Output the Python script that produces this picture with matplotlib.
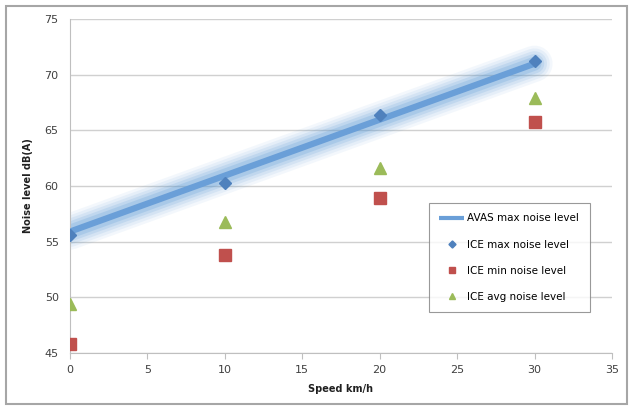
import numpy as np
import matplotlib.pyplot as plt
from matplotlib.patches import Rectangle

speed = [0, 10, 20, 30]
ice_max = [55.6, 60.3, 66.4, 71.2]
ice_min = [45.8, 53.8, 58.9, 65.8]
ice_avg = [49.4, 56.8, 61.6, 67.9]
avas_speed = [0, 30]
avas_max = [55.9, 71.0]

fig = plt.figure(figsize=(6.29, 4.08), dpi=100)
ax = fig.add_axes([0.111, 0.135, 0.862, 0.818])

# soft glow around the AVAS line
for w, a in [(26, 0.07), (22, 0.09), (18, 0.12), (14, 0.16), (10, 0.22)]:
    ax.plot(avas_speed, avas_max, color='#5b9bd5', lw=w, alpha=a,
            solid_capstyle='round', zorder=2)
ax.plot(avas_speed, avas_max, color='#6a9fd8', lw=4.5, zorder=3,
        solid_capstyle='butt', label='AVAS max noise level')

ax.plot(speed, ice_max, 'D', color='#4f81bd', ms=6, zorder=4, label='ICE max noise level')
ax.plot(speed, ice_min, 's', color='#c0504d', ms=8, zorder=4, label='ICE min noise level')
ax.plot(speed, ice_avg, '^', color='#9bbb59', ms=8, zorder=4, label='ICE avg noise level')

ax.set_xlim(0, 35)
ax.set_ylim(45, 75)
ax.set_xticks(range(0, 36, 5))
ax.set_yticks(range(45, 76, 5))
ax.grid(axis='y', color='#d0d0d0', lw=1)
ax.set_axisbelow(True)
for s in ['top', 'right']:
    ax.spines[s].set_visible(False)
for s in ['left', 'bottom']:
    ax.spines[s].set_color('#bfbfbf')
ax.tick_params(axis='x', colors='#bfbfbf', length=4, labelcolor='#404040', labelsize=8, pad=5)
ax.tick_params(axis='y', colors='#bfbfbf', length=0, labelcolor='#404040', labelsize=8, pad=8)

ax.set_xlabel('Speed km/h', fontsize=7, fontweight='bold', color='#202020', labelpad=6)
ax.set_ylabel('Noise level dB(A)', fontsize=7, fontweight='bold', color='#202020', labelpad=8)

leg = ax.legend(loc='upper left', bbox_to_anchor=(0.662, 0.449), fontsize=7.5,
                frameon=True, fancybox=False, edgecolor='#808080',
                labelspacing=1.55, handlelength=2.4, handletextpad=0.3,
                borderpad=1.0, borderaxespad=0, markerscale=0.6)
leg.get_frame().set_linewidth(0.8)
for h in leg.get_lines()[:1]:
    h.set_linewidth(3)

# chart area border
fig.patches.append(Rectangle((0.009, 0.01), 0.988, 0.975, transform=fig.transFigure,
                             fill=False, edgecolor='#a6a6a6', lw=1.5))

fig.canvas.draw()
# widen the legend frame a little on the right
frame = leg.get_frame()
frame.set_width(frame.get_width() + 12)

fig.savefig('out.png', dpi=100)
